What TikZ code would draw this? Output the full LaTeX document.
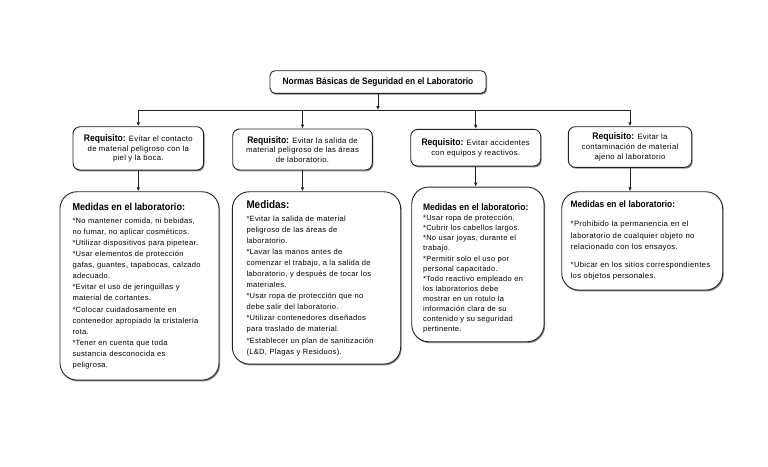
\documentclass[tikz,border=0pt]{standalone}
\usepackage{fontspec}
\setmainfont{Liberation Sans}[LetterSpace=4]
\newfontfamily\headfont{Liberation Sans Bold}[FakeStretch=0.9]
\usetikzlibrary{positioning,arrows.meta,calc,shadows}
\definecolor{edge1}{HTML}{222222}
\definecolor{shade1}{HTML}{8A8A8A}
\hyphenpenalty=10000
\exhyphenpenalty=10000

\newcommand{\hd}[2]{{\headfont\fontsize{#1}{#1}\selectfont #2}}
\newcommand{\bul}{{*}}

\tikzset{
  boxbase/.style={draw=edge1, line width=0.9pt, fill=white,
    drop shadow={shadow xshift=1pt, shadow yshift=-1.4pt, fill=shade1, opacity=1}},
  titlebox/.style={boxbase, rounded corners=5pt, inner sep=0pt},
  reqbox/.style={boxbase, rounded corners=7pt, inner sep=0pt, align=center,
    font=\fontsize{7.7}{9.7}\selectfont},
  medbox/.style={boxbase, rounded corners=17pt, align=left},
  link/.style={-{Latex[length=4pt,width=3.6pt]}, line width=0.8pt, draw=edge1},
  busline/.style={line width=0.8pt, draw=edge1}
}

\begin{document}
\begin{tikzpicture}[x=1pt,y=-1pt]
\useasboundingbox (0,0) rectangle (768,466);

% titulo
\node[titlebox, minimum width=216pt, minimum height=22.6pt] (title) at (378,82)
  {\hd{9.3}{Normas Básicas de Seguridad en el Laboratorio}};

% requisitos
\node[reqbox, minimum width=130.6pt, minimum height=43.3pt] (req1) at (138.3,148.4)
  {\hd{9.5}{Requisito:} Evitar el contacto\\ de material peligroso con la\\ piel y la boca.};
\node[reqbox, minimum width=139.6pt, minimum height=41pt] (req2) at (302.5,149.5)
  {\hd{9.5}{Requisito:} Evitar la salida de\\ material peligroso de las áreas\\ de laboratorio.};
\node[reqbox, minimum width=130pt, minimum height=36.7pt] (req3) at (475.7,147.7)
  {\hd{9.5}{Requisito:} Evitar accidentes\\ con equipos y reactivos.};
\node[reqbox, minimum width=123.4pt, minimum height=40.6pt] (req4) at (630,147)
  {\hd{9.5}{Requisito:} Evitar la\\ contaminación de material\\ ajeno al laboratorio};

% medidas
\node[medbox, text width=134pt, inner xsep=12.5pt, minimum height=188.3pt,
  font=\fontsize{7.55}{11.05}\selectfont] (med1) at (139.5,285.9)
  {\hd{10.1}{Medidas en el laboratorio:}\\[2.3pt]
   \bul No mantener comida, ni bebidas,\\ no fumar, no aplicar cosméticos.\\
   \bul Utilizar dispositivos para pipetear.\\ \bul Usar elementos de protección\\
   gafas, guantes, tapabocas, calzado\\ adecuado.\\
   \bul Evitar el uso de jeringuillas y\\ material de cortantes.\\
   \bul Colocar cuidadosamente en\\ contenedor apropiado la cristalería\\ rota.\\
   \bul Tener en cuenta que toda\\ sustancia desconocida es\\ peligrosa.};
\node[medbox, text width=140pt, inner xsep=14.2pt, minimum height=172.3pt,
  font=\fontsize{7.55}{11.05}\selectfont] (med2) at (316.5,277.9)
  {\hd{11}{Medidas:}\\[2.3pt]
   \bul Evitar la salida de material\\ peligroso de las áreas de\\ laboratorio.\\
   \bul Lavar las manos antes de\\ comenzar el trabajo, a la salida de\\
   laboratorio, y después de tocar los\\ materiales.\\
   \bul Usar ropa de protección que no\\ debe salir del laboratorio.\\
   \bul Utilizar contenedores diseñados\\ para traslado de material.\\
   \bul Establecer un plan de sanitización\\ (L\&D, Plagas y Residuos).};
\node[medbox, text width=109.7pt, inner xsep=11.3pt, minimum height=154.7pt,
  font=\fontsize{7.5}{10.1}\selectfont] (med3) at (477.9,264.4)
  {\rule{0pt}{15pt}\hd{9.4}{Medidas en el laboratorio:}\\
   \bul Usar ropa de protección.\\ \bul Cubrir los cabellos largos.\\
   \bul No usar joyas, durante el\\ trabajo.\\
   \bul Permitir solo el uso por\\ personal capacitado.\\
   \bul Todo reactivo empleado en\\ los laboratorios debe\\
   mostrar en un rotulo la\\ información clara de su\\
   contenido y su seguridad\\ pertinente.};
\node[medbox, text width=143pt, inner xsep=9pt, minimum height=98.3pt,
  font=\fontsize{7.7}{11.6}\selectfont] (med4) at (642.2,240.9)
  {\hd{9.3}{Medidas en el laboratorio:}\\[7pt]
   \bul Prohibido la permanencia en el\\ laboratorio de cualquier objeto no\\
   relacionado con los ensayos.\\[6pt]
   \bul Ubicar en los sitios correspondientes\\ los objetos personales.};

% conectores
\coordinate (bus) at (373,110);
\draw[link] (title.south) -- (title.south |- bus);
\draw[busline] (bus -| req1) -- (bus -| req4);
\foreach \n in {req1,req2,req3,req4}
  \draw[link] (bus -| \n) -- (\n.north);
\foreach \n/\m in {req1/med1,req2/med2,req3/med3,req4/med4}
  \draw[link] (\n.south) -- (\n.south |- \m.north);
\end{tikzpicture}
\end{document}
